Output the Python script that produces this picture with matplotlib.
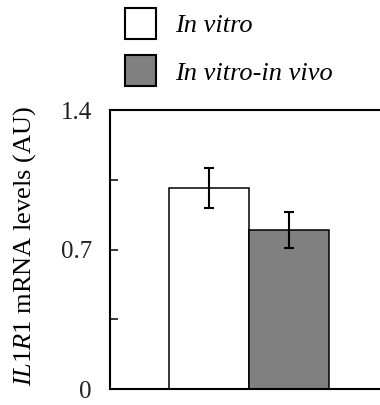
import matplotlib
matplotlib.use("Agg")
import matplotlib.pyplot as plt

plt.rcParams['font.family'] = ['Liberation Serif', 'DejaVu Serif']
plt.rcParams['mathtext.fontset'] = 'custom'
plt.rcParams['mathtext.rm'] = 'Liberation Serif'
plt.rcParams['mathtext.it'] = 'Liberation Serif:italic'

categories = ['In vitro', 'In vitro-in vivo']
values = [1.01, 0.80]
errors = [0.10, 0.09]
colors = ['white', '#808080']
yticks = [0, 0.35, 0.7, 1.05, 1.4]
ytick_labels = ['0', '', '0.7', '', '1.4']

fig = plt.figure(figsize=(3.8, 4.05), dpi=100)
ax = fig.add_axes([110/380, 1 - 389/405, 290/380, 279/405])

xpos = [0, 1]
bars = []
for x, v, e, c, lab in zip(xpos, values, errors, colors, categories):
    b = ax.bar(x, v, width=1.0, color=c, edgecolor='black', linewidth=1.1,
               label=lab, zorder=2)
    bars.append(b)
    ax.errorbar(x, v, yerr=e, fmt='none', ecolor='black', elinewidth=1.5,
                capsize=3.8, capthick=1.5, zorder=3)

ax.set_xlim(-1.2375, 2.3875)
ax.set_ylim(0, 1.4)
ax.set_xticks([])
ax.set_yticks(yticks)
ax.set_yticklabels(ytick_labels)
ax.tick_params(axis='y', direction='in', length=6, width=1.1, pad=13,
               labelsize=18, colors='black', labelcolor='#222222')
for s in ['left', 'top', 'bottom', 'right']:
    ax.spines[s].set_linewidth(1.5)

ax.set_ylabel(r'$\mathit{IL1R1}$ mRNA levels (AU)', fontsize=19)
ax.yaxis.set_label_coords(-72/290, 0.513)

leg = ax.legend(handles=[b[0] for b in bars], labels=categories,
                loc='upper left', bbox_to_anchor=(125/380, 1 - 8/405),
                bbox_transform=fig.transFigure, frameon=False,
                prop={'family': 'Liberation Serif', 'style': 'italic', 'size': 19},
                handlelength=1.18, handleheight=1.43, handletextpad=0.7,
                labelspacing=0.62, borderpad=0, borderaxespad=0)
for h in leg.legend_handles:
    h.set_linewidth(1.5)

fig.savefig('out.png', dpi=100)
